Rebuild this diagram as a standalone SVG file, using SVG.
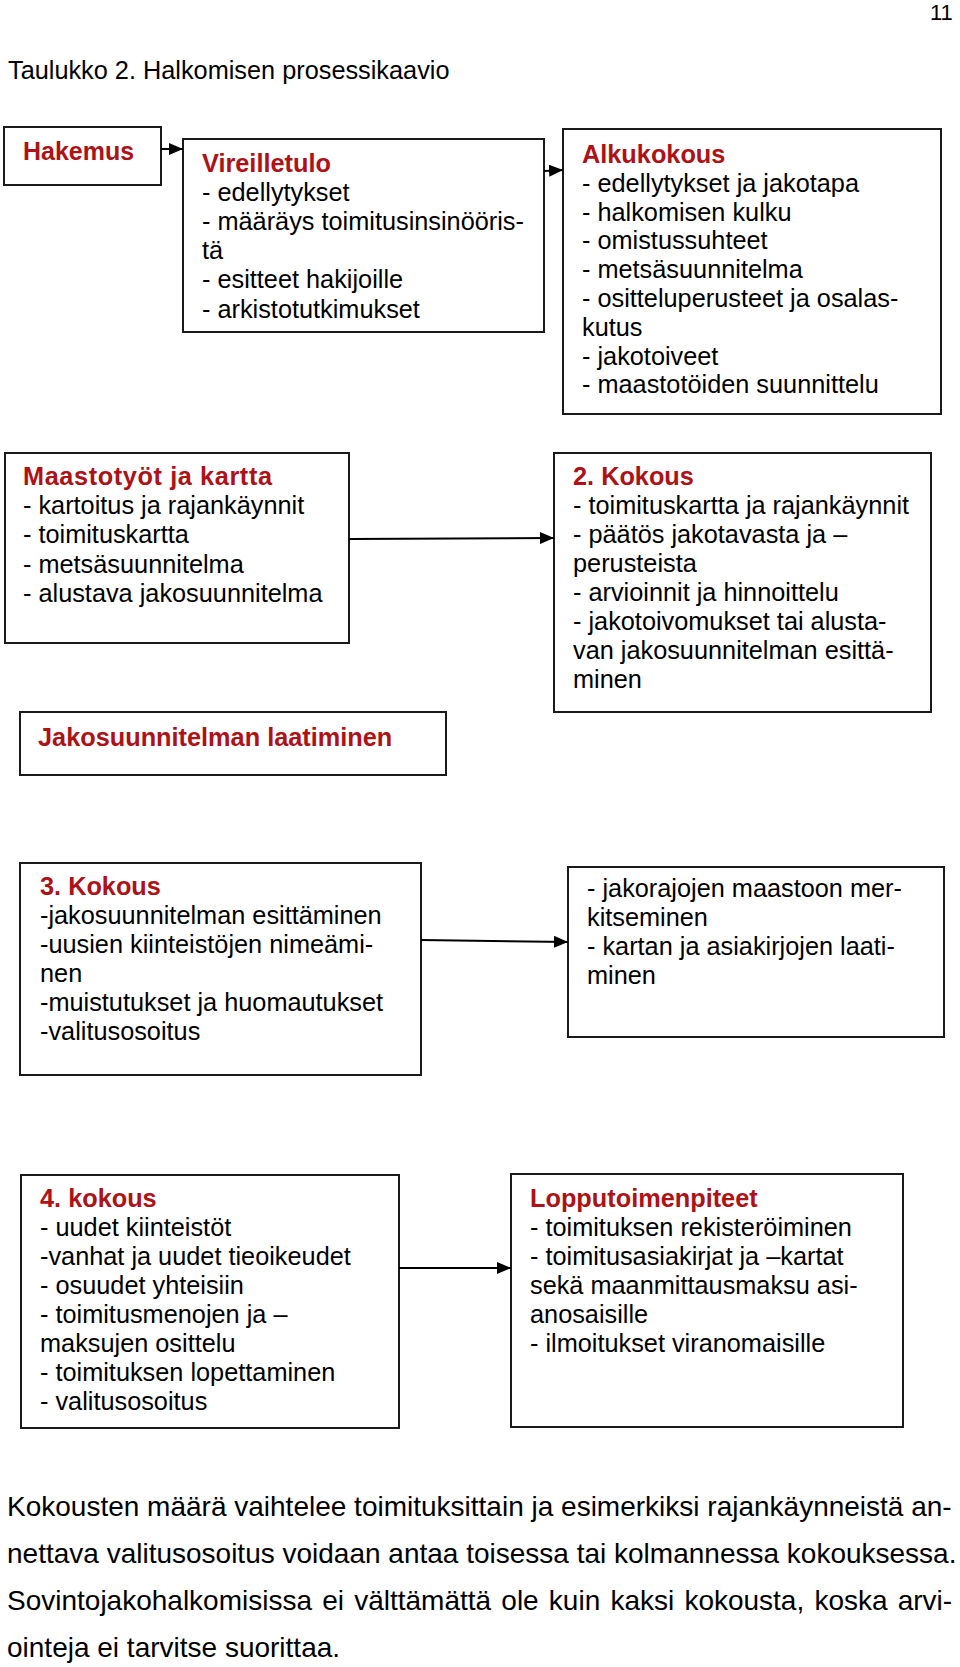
<svg xmlns="http://www.w3.org/2000/svg" width="960" height="1667" viewBox="0 0 960 1667">
<style>
text{font-family:"Liberation Sans",Arial,sans-serif;fill:#000}
.box{fill:#fff;stroke:#1a1a1a;stroke-width:2}
.t{font-size:25.3px}
.h{font-weight:bold;fill:#AE1116}
.p{font-size:28px}
.c{stroke:#000;stroke-width:2;fill:none;marker-end:url(#ah)}
</style>
<defs>
<marker id="ah" markerUnits="userSpaceOnUse" markerWidth="14" markerHeight="12" refX="14" refY="6" orient="auto">
<path d="M0,0 L14,6 L0,12 Z" fill="#000"/>
</marker>
</defs>
<text x="930" y="20" style="font-size:22px">11</text>
<text class="t" x="8" y="79">Taulukko 2. Halkomisen prosessikaavio</text>

<g id="hakemus">
<rect class="box" x="4" y="127" width="157" height="58"/>
<text class="h" x="23" y="160" style="font-size:25px">Hakemus</text>
</g>

<g id="vireilletulo">
<rect class="box" x="183" y="139" width="361" height="193"/>
<text class="t" x="202" y="172"><tspan class="h">Vireilletulo</tspan><tspan x="202" dy="29.1">- edellytykset</tspan><tspan x="202" dy="29.1">- määräys toimitusinsinööris-</tspan><tspan x="202" dy="29.1">tä</tspan><tspan x="202" dy="29.1">- esitteet hakijoille</tspan><tspan x="202" dy="29.1">- arkistotutkimukset</tspan></text>
</g>

<g id="alkukokous">
<rect class="box" x="563" y="129" width="378" height="285"/>
<text class="t" x="582" y="163"><tspan class="h">Alkukokous</tspan><tspan x="582" dy="28.8">- edellytykset ja jakotapa</tspan><tspan x="582" dy="28.8">- halkomisen kulku</tspan><tspan x="582" dy="28.8">- omistussuhteet</tspan><tspan x="582" dy="28.8">- metsäsuunnitelma</tspan><tspan x="582" dy="28.8">- ositteluperusteet ja osalas-</tspan><tspan x="582" dy="28.8">kutus</tspan><tspan x="582" dy="28.8">- jakotoiveet</tspan><tspan x="582" dy="28.8">- maastotöiden suunnittelu</tspan></text>
</g>

<g id="maastotyot">
<rect class="box" x="5" y="453" width="344" height="190"/>
<text class="t" x="23" y="485"><tspan class="h" letter-spacing="0.6">Maastotyöt ja kartta</tspan><tspan x="23" dy="29.2">- kartoitus ja rajankäynnit</tspan><tspan x="23" dy="29.2">- toimituskartta</tspan><tspan x="23" dy="29.2">- metsäsuunnitelma</tspan><tspan x="23" dy="29.2">- alustava jakosuunnitelma</tspan></text>
</g>

<g id="kokous2">
<rect class="box" x="554" y="453" width="377" height="259"/>
<text class="t" x="573" y="485"><tspan class="h">2. Kokous</tspan><tspan x="573" dy="29">- toimituskartta ja rajankäynnit</tspan><tspan x="573" dy="29">- päätös jakotavasta ja –</tspan><tspan x="573" dy="29">perusteista</tspan><tspan x="573" dy="29">- arvioinnit ja hinnoittelu</tspan><tspan x="573" dy="29">- jakotoivomukset tai alusta-</tspan><tspan x="573" dy="29">van jakosuunnitelman esittä-</tspan><tspan x="573" dy="29">minen</tspan></text>
</g>

<g id="jakosuunnitelma">
<rect class="box" x="20" y="712" width="426" height="63"/>
<text class="t h" x="38" y="746">Jakosuunnitelman laatiminen</text>
</g>

<g id="kokous3">
<rect class="box" x="20" y="863" width="401" height="212"/>
<text class="t" x="40" y="895"><tspan class="h">3. Kokous</tspan><tspan x="40" dy="29">-jakosuunnitelman esittäminen</tspan><tspan x="40" dy="29">-uusien kiinteistöjen nimeämi-</tspan><tspan x="40" dy="29">nen</tspan><tspan x="40" dy="29">-muistutukset ja huomautukset</tspan><tspan x="40" dy="29">-valitusosoitus</tspan></text>
</g>

<g id="merkitseminen">
<rect class="box" x="568" y="867" width="376" height="170"/>
<text class="t" x="587" y="897"><tspan>- jakorajojen maastoon mer-</tspan><tspan x="587" dy="29">kitseminen</tspan><tspan x="587" dy="29">- kartan ja asiakirjojen laati-</tspan><tspan x="587" dy="29">minen</tspan></text>
</g>

<g id="kokous4">
<rect class="box" x="21" y="1175" width="378" height="253"/>
<text class="t" x="40" y="1207"><tspan class="h">4. kokous</tspan><tspan x="40" dy="29">- uudet kiinteistöt</tspan><tspan x="40" dy="29">-vanhat ja uudet tieoikeudet</tspan><tspan x="40" dy="29">- osuudet yhteisiin</tspan><tspan x="40" dy="29">- toimitusmenojen ja –</tspan><tspan x="40" dy="29">maksujen osittelu</tspan><tspan x="40" dy="29">- toimituksen lopettaminen</tspan><tspan x="40" dy="29">- valitusosoitus</tspan></text>
</g>

<g id="lopputoimenpiteet">
<rect class="box" x="511" y="1174" width="392" height="253"/>
<text class="t" x="530" y="1207"><tspan class="h">Lopputoimenpiteet</tspan><tspan x="530" dy="29">- toimituksen rekisteröiminen</tspan><tspan x="530" dy="29">- toimitusasiakirjat ja –kartat</tspan><tspan x="530" dy="29">sekä maanmittausmaksu asi-</tspan><tspan x="530" dy="29">anosaisille</tspan><tspan x="530" dy="29">- ilmoitukset viranomaisille</tspan></text>
</g>

<g id="connectors">
<line class="c" x1="161" y1="149" x2="183" y2="149"/>
<line class="c" x1="544" y1="171" x2="563" y2="170"/>
<line class="c" x1="349" y1="539" x2="554" y2="538"/>
<line class="c" x1="421" y1="940" x2="568" y2="942"/>
<line class="c" x1="399" y1="1268" x2="511" y2="1268"/>
</g>

<g id="paragraph">
<text class="p" x="7" y="1516">Kokousten määrä vaihtelee toimituksittain ja esimerkiksi rajankäynneistä an-</text>
<text class="p" x="7" y="1563">nettava valitusosoitus voidaan antaa toisessa tai kolmannessa kokouksessa.</text>
<text class="p" x="7" y="1610" word-spacing="2.4">Sovintojakohalkomisissa ei välttämättä ole kuin kaksi kokousta, koska arvi-</text>
<text class="p" x="7" y="1657">ointeja ei tarvitse suorittaa.</text>
</g>
</svg>
